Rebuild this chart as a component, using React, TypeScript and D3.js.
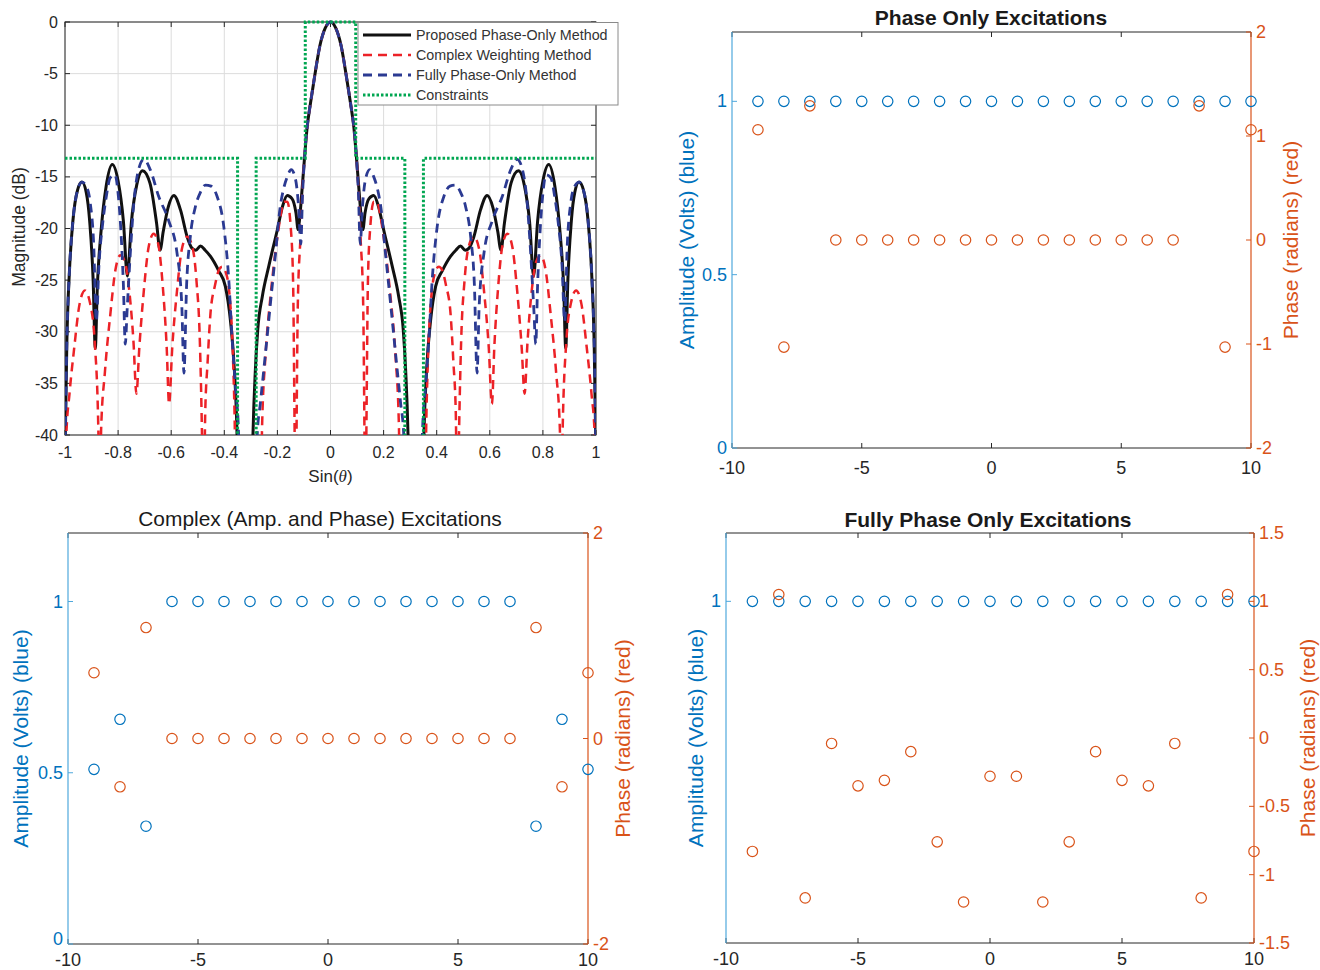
import React from 'react';
import * as d3 from 'd3';

const FONT = '"Liberation Sans", Arial, Helvetica, sans-serif';

// ---------------- Array pattern (top-left) ----------------
const patternXTicks = [-1, -0.8, -0.6, -0.4, -0.2, 0, 0.2, 0.4, 0.6, 0.8, 1];
const patternXTickLabels = ['-1', '-0.8', '-0.6', '-0.4', '-0.2', '0', '0.2', '0.4', '0.6', '0.8', '1'];
const patternYTicks = [0, -5, -10, -15, -20, -25, -30, -35, -40];
const patternYTickLabels = ['0', '-5', '-10', '-15', '-20', '-25', '-30', '-35', '-40'];

const proposedPattern: [number, number][] = [
  [-1.0, -42], [-0.993, -31], [-0.983, -24], [-0.97, -19.2], [-0.953, -16.3], [-0.936, -15.5], [-0.92, -16.5],
  [-0.907, -19.3], [-0.894, -25], [-0.886, -31.6], [-0.878, -25.5], [-0.865, -20.5], [-0.845, -15.9], [-0.822, -13.8],
  [-0.8, -15.4], [-0.78, -19.3], [-0.765, -24.6], [-0.75, -19.4], [-0.73, -15.8], [-0.708, -14.4], [-0.68, -15.6],
  [-0.655, -19.5], [-0.642, -22.1], [-0.63, -20.3], [-0.612, -18], [-0.59, -16.8], [-0.565, -18.2], [-0.54, -20.8],
  [-0.522, -21.9], [-0.507, -22.1], [-0.49, -21.7], [-0.472, -22.1], [-0.452, -22.7], [-0.421, -24.1], [-0.396, -25.6],
  [-0.377, -28.9], [-0.362, -33.7], [-0.352, -40], [-0.346, -48], [-0.298, -48], [-0.292, -40], [-0.283, -33.7],
  [-0.274, -29.8], [-0.257, -26.6], [-0.232, -23.6], [-0.2, -20.1], [-0.18, -17.8], [-0.163, -16.8], [-0.145, -17.1],
  [-0.13, -18.5], [-0.122, -20.1], [-0.116, -19], [-0.108, -16.5], [-0.098, -13.2], [-0.088, -10.2], [-0.075, -7.8],
  [-0.06, -5.3], [-0.04, -2.3], [-0.02, -0.6], [0, 0],
  [0.02, -0.6], [0.04, -2.3], [0.06, -5.3], [0.075, -7.8], [0.088, -10.2], [0.098, -13.2], [0.108, -16.5], [0.116, -19],
  [0.122, -20.1], [0.13, -18.5], [0.145, -17.1], [0.163, -16.8], [0.18, -17.8], [0.2, -20.1], [0.232, -23.6],
  [0.257, -26.6], [0.274, -29.8], [0.283, -33.7], [0.292, -40], [0.298, -48], [0.346, -48], [0.352, -40], [0.362, -33.7],
  [0.377, -28.9], [0.396, -25.6], [0.421, -24.1], [0.452, -22.7], [0.472, -22.1], [0.49, -21.7], [0.507, -22.1],
  [0.522, -21.9], [0.54, -20.8], [0.565, -18.2], [0.59, -16.8], [0.612, -18], [0.63, -20.3], [0.642, -22.1],
  [0.655, -19.5], [0.68, -15.6], [0.708, -14.4], [0.73, -15.8], [0.75, -19.4], [0.765, -24.6], [0.78, -19.3],
  [0.8, -15.4], [0.822, -13.8], [0.845, -15.9], [0.865, -20.5], [0.878, -25.5], [0.886, -31.6], [0.894, -25],
  [0.907, -19.3], [0.92, -16.5], [0.936, -15.5], [0.953, -16.3], [0.97, -19.2], [0.983, -24], [0.993, -31], [1.0, -42],
];

const complexPattern: [number, number][] = [
  [-1.0, -44], [-0.995, -40], [-0.983, -36], [-0.965, -31.5], [-0.945, -27.3], [-0.925, -26], [-0.905, -27.3],
  [-0.888, -31], [-0.874, -40], [-0.868, -50], [-0.864, -39.5], [-0.85, -34], [-0.83, -28.5], [-0.81, -24],
  [-0.792, -22.6], [-0.775, -23.2], [-0.758, -26], [-0.742, -31], [-0.731, -36], [-0.72, -31.5], [-0.703, -26],
  [-0.685, -21.8], [-0.666, -20.5], [-0.648, -21.6], [-0.632, -25.5], [-0.617, -31.5], [-0.608, -37], [-0.596, -31.5],
  [-0.578, -26], [-0.56, -22], [-0.54, -20.8], [-0.52, -21.8], [-0.505, -25], [-0.492, -31], [-0.484, -40],
  [-0.478, -50], [-0.472, -38], [-0.463, -33], [-0.452, -28.2], [-0.435, -25.5], [-0.42, -24], [-0.408, -23.7],
  [-0.395, -24.2], [-0.38, -26.5], [-0.368, -32], [-0.36, -40], [-0.355, -50], [-0.263, -50], [-0.258, -39.5],
  [-0.245, -32.4], [-0.226, -26.6], [-0.2, -20.8], [-0.187, -18.6], [-0.175, -17.4], [-0.163, -17.4], [-0.15, -19.8],
  [-0.141, -25], [-0.135, -40], [-0.131, -50], [-0.128, -40], [-0.123, -27.2], [-0.113, -20.8], [-0.106, -16.5],
  [-0.098, -13.2], [-0.088, -10.2], [-0.075, -7.8], [-0.06, -5.3], [-0.04, -2.3], [-0.02, -0.6], [0, 0],
  [0.02, -0.6], [0.04, -2.3], [0.06, -5.3], [0.075, -7.8], [0.088, -10.2], [0.098, -13.2], [0.106, -16.5],
  [0.113, -20.8], [0.123, -27.2], [0.128, -40], [0.131, -50], [0.135, -40], [0.141, -25], [0.15, -19.8],
  [0.163, -17.4], [0.175, -17.4], [0.187, -18.6], [0.2, -20.8], [0.226, -26.6], [0.245, -32.4], [0.258, -39.5],
  [0.263, -50], [0.355, -50], [0.36, -40], [0.368, -32], [0.38, -26.5], [0.395, -24.2], [0.408, -23.7], [0.42, -24],
  [0.435, -25.5], [0.452, -28.2], [0.463, -33], [0.472, -38], [0.478, -50], [0.484, -40], [0.492, -31], [0.505, -25],
  [0.52, -21.8], [0.54, -20.8], [0.56, -22], [0.578, -26], [0.596, -31.5], [0.608, -37], [0.617, -31.5],
  [0.632, -25.5], [0.648, -21.6], [0.666, -20.5], [0.685, -21.8], [0.703, -26], [0.72, -31.5], [0.731, -36],
  [0.742, -31], [0.758, -26], [0.775, -23.2], [0.792, -22.6], [0.81, -24], [0.83, -28.5], [0.85, -34], [0.864, -39.5],
  [0.868, -50], [0.874, -40], [0.888, -31], [0.905, -27.3], [0.925, -26], [0.945, -27.3], [0.965, -31.5],
  [0.983, -36], [0.995, -40], [1.0, -44],
];

const fullyPattern: [number, number][] = [
  [-1.0, -42], [-0.993, -31], [-0.983, -24], [-0.97, -19.2], [-0.953, -16.3], [-0.936, -15.5], [-0.92, -15.9],
  [-0.905, -17.5], [-0.892, -21.5], [-0.882, -29], [-0.872, -23.5], [-0.858, -19.5], [-0.845, -17], [-0.83, -15.1],
  [-0.812, -14.8], [-0.8, -16.6], [-0.79, -20], [-0.78, -25.5], [-0.773, -31.2], [-0.766, -27.9], [-0.754, -22.4],
  [-0.741, -17.6], [-0.722, -14.2], [-0.703, -13.3], [-0.679, -14.3], [-0.647, -16.9], [-0.61, -19.2],
  [-0.578, -22.4], [-0.56, -27.5], [-0.552, -34], [-0.542, -25.5], [-0.528, -20.8], [-0.509, -17.9], [-0.49, -16.5],
  [-0.471, -15.8], [-0.45, -15.9], [-0.427, -16.9], [-0.402, -19.8], [-0.383, -25], [-0.371, -30.5], [-0.358, -35.3],
  [-0.346, -40], [-0.34, -48], [-0.283, -48], [-0.276, -40], [-0.264, -36.9], [-0.245, -32.1], [-0.226, -27.2],
  [-0.207, -22.4], [-0.19, -18], [-0.178, -16.3], [-0.163, -15], [-0.148, -14.3], [-0.132, -15.2], [-0.12, -18],
  [-0.112, -21.5], [-0.105, -16.5], [-0.098, -13.2], [-0.088, -10.2], [-0.075, -7.8], [-0.06, -5.3], [-0.04, -2.3],
  [-0.02, -0.6], [0, 0],
  [0.02, -0.6], [0.04, -2.3], [0.06, -5.3], [0.075, -7.8], [0.088, -10.2], [0.098, -13.2], [0.105, -16.5],
  [0.112, -21.5], [0.12, -18], [0.132, -15.2], [0.148, -14.3], [0.163, -15], [0.178, -16.3], [0.19, -18],
  [0.207, -22.4], [0.226, -27.2], [0.245, -32.1], [0.264, -36.9], [0.276, -40], [0.283, -48], [0.34, -48],
  [0.346, -40], [0.358, -35.3], [0.371, -30.5], [0.383, -25], [0.402, -19.8], [0.427, -16.9], [0.45, -15.9],
  [0.471, -15.8], [0.49, -16.5], [0.509, -17.9], [0.528, -20.8], [0.542, -25.5], [0.552, -34], [0.56, -27.5],
  [0.578, -22.4], [0.61, -19.2], [0.647, -16.9], [0.679, -14.3], [0.703, -13.3], [0.722, -14.2], [0.741, -17.6],
  [0.754, -22.4], [0.766, -27.9], [0.773, -31.2], [0.78, -25.5], [0.79, -20], [0.8, -16.6], [0.812, -14.8],
  [0.83, -15.1], [0.845, -17], [0.858, -19.5], [0.872, -23.5], [0.882, -29], [0.892, -21.5], [0.905, -17.5],
  [0.92, -15.9], [0.936, -15.5], [0.953, -16.3], [0.97, -19.2], [0.983, -24], [0.993, -31], [1.0, -42],
];

const constraintMask: [number, number][] = [
  [-1, -13.2], [-0.35, -13.2], [-0.35, -60], [-0.28, -60], [-0.28, -13.2], [-0.095, -13.2], [-0.095, 0],
  [0.095, 0], [0.095, -13.2], [0.28, -13.2], [0.28, -60], [0.35, -60], [0.35, -13.2], [1, -13.2],
];

const legendLabels = ['Proposed Phase-Only Method', 'Complex Weighting Method', 'Fully Phase-Only Method', 'Constraints'];

// ---------------- Excitations ----------------
const elementIndex = [-9, -8, -7, -6, -5, -4, -3, -2, -1, 0, 1, 2, 3, 4, 5, 6, 7, 8, 9, 10];
const excXTicks = [-10, -5, 0, 5, 10];

const phaseOnlyAmp = [1, 1, 1, 1, 1, 1, 1, 1, 1, 1, 1, 1, 1, 1, 1, 1, 1, 1, 1, 1];
const phaseOnlyPhase = [1.06, -1.03, 1.29, 0, 0, 0, 0, 0, 0, 0, 0, 0, 0, 0, 0, 0, 0, 1.29, -1.03, 1.06];

const complexAmp = [0.51, 0.656, 0.344, 1, 1, 1, 1, 1, 1, 1, 1, 1, 1, 1, 1, 1, 1, 0.344, 0.656, 0.51];
const complexPhase = [0.64, -0.47, 1.08, 0, 0, 0, 0, 0, 0, 0, 0, 0, 0, 0, 0, 0, 0, 1.08, -0.47, 0.64];

const fullyAmp = [1, 1, 1, 1, 1, 1, 1, 1, 1, 1, 1, 1, 1, 1, 1, 1, 1, 1, 1, 1];
const fullyPhase = [-0.83, 1.05, -1.17, -0.04, -0.35, -0.31, -0.1, -0.76, -1.2, -0.28,
  -0.28, -1.2, -0.76, -0.1, -0.31, -0.35, -0.04, -1.17, 1.05, -0.83];

const BLUE = '#0072BD';
const BLUE_LINE = '#4fa8dc';
const ORANGE = '#D95319';
const AXIS = '#262626';

type PanelProps = {
  box: { l: number; r: number; t: number; b: number };
  title: string;
  titleBold: boolean;
  titleY: number;
  titleX: number;
  ampDomain: [number, number];
  ampTicks: number[];
  phaseDomain: [number, number];
  phaseTicks: number[];
  amps: number[];
  phases: number[];
  leftLabelX: number;
  rightLabelX: number;
  xLabelDy: number;
  zeroLabelShift: number;
};

function ExcitationPanel(p: PanelProps) {
  const { box } = p;
  const x = d3.scaleLinear().domain([-10, 10]).range([box.l, box.r]);
  const yA = d3.scaleLinear().domain(p.ampDomain).range([box.b, box.t]);
  const yP = d3.scaleLinear().domain(p.phaseDomain).range([box.b, box.t]);
  const cy = (box.t + box.b) / 2;
  return (
    <g>
      <text x={p.titleX} y={p.titleY} textAnchor="middle" dominantBaseline="central" fontSize={p.titleBold ? 21 : 20.9}
        fontWeight={p.titleBold ? 'bold' : 'normal'} fill="#1a1a1a">{p.title}</text>
      {/* top & bottom axes */}
      <line x1={box.l} x2={box.r} y1={box.t} y2={box.t} stroke={AXIS} strokeWidth={1} />
      <line x1={box.l} x2={box.r} y1={box.b} y2={box.b} stroke={AXIS} strokeWidth={1} />
      {excXTicks.map((v) => (
        <g key={'xt' + v}>
          <line x1={x(v)} x2={x(v)} y1={box.t} y2={box.t + 5} stroke={AXIS} />
          <line x1={x(v)} x2={x(v)} y1={box.b} y2={box.b - 5} stroke={AXIS} />
          <text x={x(v)} y={box.b + p.xLabelDy} textAnchor="middle" dominantBaseline="central" fontSize={18} fill={AXIS}>{String(v)}</text>
        </g>
      ))}
      {/* left axis */}
      <line x1={box.l} x2={box.l} y1={box.t} y2={box.b} stroke={BLUE_LINE} strokeWidth={1.2} />
      {p.ampTicks.map((v) => (
        <g key={'at' + v}>
          <line x1={box.l} x2={box.l + 5} y1={yA(v)} y2={yA(v)} stroke={BLUE_LINE} />
          <text x={box.l - 5} y={yA(v) - (v === 0 ? p.zeroLabelShift : 0)} textAnchor="end" dominantBaseline="central"
            fontSize={18} fill={BLUE}>{String(v)}</text>
        </g>
      ))}
      {/* right axis */}
      <line x1={box.r} x2={box.r} y1={box.t} y2={box.b} stroke={ORANGE} strokeWidth={1.2} />
      {p.phaseTicks.map((v) => (
        <g key={'pt' + v}>
          <line x1={box.r} x2={box.r - 5} y1={yP(v)} y2={yP(v)} stroke={ORANGE} />
          <text x={box.r + 5} y={yP(v)} textAnchor="start" dominantBaseline="central" fontSize={18} fill={ORANGE}>{String(v)}</text>
        </g>
      ))}
      <text transform={`translate(${p.leftLabelX},${cy}) rotate(-90)`} textAnchor="middle" fontSize={21} fill={BLUE}>Amplitude (Volts) (blue)</text>
      <text transform={`translate(${p.rightLabelX},${cy}) rotate(-90)`} textAnchor="middle" fontSize={21} fill={ORANGE}>Phase (radians) (red)</text>
      {elementIndex.map((n, i) => (
        <circle key={'a' + n} cx={x(n)} cy={yA(p.amps[i])} r={5.2} fill="none" stroke={BLUE} strokeWidth={1.2} />
      ))}
      {elementIndex.map((n, i) => (
        <circle key={'p' + n} cx={x(n)} cy={yP(p.phases[i])} r={5.2} fill="none" stroke={ORANGE} strokeWidth={1.2} />
      ))}
    </g>
  );
}

function PatternPanel() {
  const box = { l: 65, r: 596, t: 22, b: 435 };
  const x = d3.scaleLinear().domain([-1, 1]).range([box.l, box.r]);
  const y = d3.scaleLinear().domain([-40, 0]).range([box.b, box.t]);
  const line = d3.line<[number, number]>().x((d) => x(d[0])).y((d) => y(d[1])).curve(d3.curveMonotoneX);
  const stepLine = d3.line<[number, number]>().x((d) => x(d[0])).y((d) => y(d[1]));
  const legendY = [35, 55, 75, 95];
  const legendStyles = [
    { stroke: '#111111', w: 3, dash: undefined as string | undefined },
    { stroke: '#EC2227', w: 2.5, dash: '9 6' },
    { stroke: '#2B3A92', w: 2.8, dash: '9 6' },
    { stroke: '#00A651', w: 3, dash: '2.5 2' },
  ];
  return (
    <g>
      <defs>
        <clipPath id="patClip">
          <rect x={box.l} y={box.t - 3} width={box.r - box.l} height={box.b - box.t + 3} />
        </clipPath>
      </defs>
      <rect x={box.l} y={box.t} width={box.r - box.l} height={box.b - box.t} fill="#fff" />
      {patternXTicks.map((v) => (
        <line key={'gx' + v} x1={x(v)} x2={x(v)} y1={box.t} y2={box.b} stroke="#dcdcdc" strokeWidth={1} />
      ))}
      {patternYTicks.map((v) => (
        <line key={'gy' + v} x1={box.l} x2={box.r} y1={y(v)} y2={y(v)} stroke="#dcdcdc" strokeWidth={1} />
      ))}
      <rect x={box.l} y={box.t} width={box.r - box.l} height={box.b - box.t} fill="none" stroke={AXIS} strokeWidth={1} />
      {patternXTicks.map((v, i) => (
        <g key={'tx' + v}>
          <line x1={x(v)} x2={x(v)} y1={box.b} y2={box.b - 5} stroke={AXIS} />
          <line x1={x(v)} x2={x(v)} y1={box.t} y2={box.t + 5} stroke={AXIS} />
          <text x={x(v)} y={box.b + 17} textAnchor="middle" dominantBaseline="central" fontSize={16} fill={AXIS}>{patternXTickLabels[i]}</text>
        </g>
      ))}
      {patternYTicks.map((v, i) => (
        <g key={'ty' + v}>
          <line x1={box.l} x2={box.l + 5} y1={y(v)} y2={y(v)} stroke={AXIS} />
          <line x1={box.r} x2={box.r - 5} y1={y(v)} y2={y(v)} stroke={AXIS} />
          <text x={box.l - 7} y={y(v)} textAnchor="end" dominantBaseline="central" fontSize={16} fill={AXIS}>{patternYTickLabels[i]}</text>
        </g>
      ))}
      <g clipPath="url(#patClip)">
        <path d={line(proposedPattern) || ''} fill="none" stroke="#111111" strokeWidth={3} strokeLinejoin="round" />
        <path d={line(complexPattern) || ''} fill="none" stroke="#EC2227" strokeWidth={2.5} strokeDasharray="9 6" />
        <path d={line(fullyPattern) || ''} fill="none" stroke="#2B3A92" strokeWidth={2.8} strokeDasharray="9 6" />
        <path d={stepLine(constraintMask) || ''} fill="none" stroke="#00A651" strokeWidth={3} strokeDasharray="2.5 2" />
      </g>
      <text transform={`translate(25,227) rotate(-90)`} textAnchor="middle" fontSize={17.5} fill={AXIS}>Magnitude (dB)</text>
      <text x={(box.l + box.r) / 2} y={476} textAnchor="middle" dominantBaseline="central" fontSize={17} fill={AXIS}>
        Sin(<tspan fontStyle="italic" fontFamily='"Liberation Serif", "DejaVu Serif", serif'>θ</tspan>)
      </text>
      {/* legend */}
      <rect x={358} y={22.5} width={260} height={82.5} fill="#fff" stroke="#8a8a8a" strokeWidth={1} />
      {legendLabels.map((lab, i) => (
        <g key={lab}>
          <line x1={363} x2={411} y1={legendY[i]} y2={legendY[i]} stroke={legendStyles[i].stroke}
            strokeWidth={legendStyles[i].w} strokeDasharray={legendStyles[i].dash} />
          <text x={416} y={legendY[i]} dominantBaseline="central" fontSize={14.3} fill="#333">{lab}</text>
        </g>
      ))}
    </g>
  );
}

export default function App() {
  return (
    <div style={{ position: 'absolute', left: 0, top: 0, width: 1320, height: 970, background: '#fff', overflow: 'hidden' }}>
      <svg width={1320} height={970} style={{ display: 'block', fontFamily: FONT }}>
        <rect x={0} y={0} width={1320} height={970} fill="#fff" />
        <PatternPanel />
        <ExcitationPanel
          box={{ l: 732, r: 1251, t: 32, b: 448 }}
          title="Phase Only Excitations" titleBold={true} titleX={991} titleY={17}
          ampDomain={[0, 1.2]} ampTicks={[0, 0.5, 1]}
          phaseDomain={[-2, 2]} phaseTicks={[-2, -1, 0, 1, 2]}
          amps={phaseOnlyAmp} phases={phaseOnlyPhase}
          leftLabelX={694} rightLabelX={1298} xLabelDy={20} zeroLabelShift={0}
        />
        <ExcitationPanel
          box={{ l: 68, r: 588, t: 533, b: 944 }}
          title="Complex (Amp. and Phase) Excitations" titleBold={false} titleX={320} titleY={518}
          ampDomain={[0, 1.2]} ampTicks={[0, 0.5, 1]}
          phaseDomain={[-2, 2]} phaseTicks={[-2, 0, 2]}
          amps={complexAmp} phases={complexPhase}
          leftLabelX={28} rightLabelX={630} xLabelDy={16} zeroLabelShift={5}
        />
        <ExcitationPanel
          box={{ l: 726, r: 1254, t: 533, b: 943 }}
          title="Fully Phase Only Excitations" titleBold={true} titleX={988} titleY={519}
          ampDomain={[0, 1.2]} ampTicks={[1]}
          phaseDomain={[-1.5, 1.5]} phaseTicks={[-1.5, -1, -0.5, 0, 0.5, 1, 1.5]}
          amps={fullyAmp} phases={fullyPhase}
          leftLabelX={703} rightLabelX={1315} xLabelDy={16} zeroLabelShift={0}
        />
      </svg>
    </div>
  );
}
